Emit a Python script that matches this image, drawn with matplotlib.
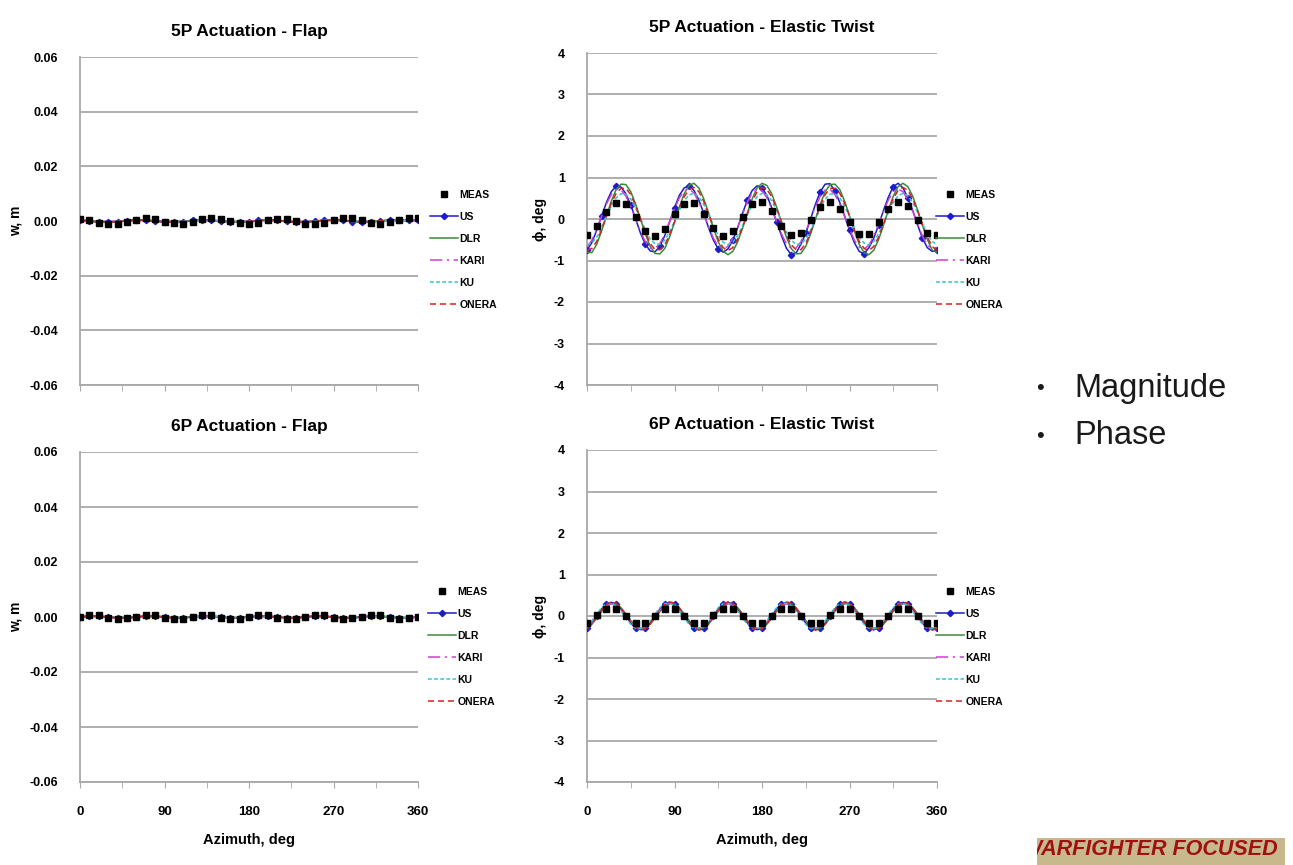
import numpy as np
import matplotlib
matplotlib.use("Agg")
import matplotlib.pyplot as plt
from matplotlib.lines import Line2D

plt.rcParams['font.family'] = ['Liberation Sans', 'DejaVu Sans']

# azimuth grids (deg)
az_meas = np.arange(0, 361, 10)
az_model = np.arange(0, 361, 5)
az_flap = np.arange(0, 361, 10)

series = ["US", "DLR", "KARI", "KU", "ONERA"]

# ---- 5P actuation, flap (m) ----
meas_flap5 = [0.0008, 0.0003, -0.0006, -0.0010, -0.0010, -0.0005, 0.0003, 0.0010, 0.0008, -0.0002,
              -0.0009, -0.0011, -0.0004, 0.0006, 0.0011, 0.0009, -0.0001, -0.0008, -0.0010, -0.0006,
              0.0002, 0.0009, 0.0007, -0.0001, -0.0010, -0.0012, -0.0006, 0.0004, 0.0011, 0.0012,
              0.0002, -0.0008, -0.0011, -0.0005, 0.0004, 0.0010, 0.0010]
us_flap5 = [0.0004, -0.0001, -0.0004, -0.0005, -0.0003, 0.0001, 0.0004, 0.0004, 0.0000, -0.0004,
            -0.0005, -0.0002, 0.0002, 0.0005, 0.0004, 0.0000, -0.0004, -0.0005, -0.0002, 0.0002,
            0.0005, 0.0003, -0.0001, -0.0005, -0.0005, -0.0001, 0.0003, 0.0005, 0.0003, -0.0002,
            -0.0005, -0.0004, 0.0000, 0.0004, 0.0005, 0.0002, 0.0004]
dlr_flap5 = [0.0003, 0.0001, -0.0003, -0.0004, -0.0002, 0.0001, 0.0003, 0.0003, 0.0000, -0.0003,
             -0.0004, -0.0001, 0.0002, 0.0004, 0.0003, -0.0001, -0.0003, -0.0004, -0.0001, 0.0002,
             0.0004, 0.0002, -0.0001, -0.0004, -0.0003, 0.0000, 0.0003, 0.0004, 0.0002, -0.0002,
             -0.0004, -0.0003, 0.0001, 0.0003, 0.0004, 0.0001, 0.0003]
kari_flap5 = [0.0002, 0.0000, -0.0002, -0.0003, -0.0001, 0.0001, 0.0003, 0.0002, 0.0000, -0.0002,
              -0.0003, -0.0001, 0.0002, 0.0003, 0.0002, -0.0001, -0.0003, -0.0003, 0.0000, 0.0002,
              0.0003, 0.0002, -0.0001, -0.0003, -0.0002, 0.0000, 0.0002, 0.0003, 0.0001, -0.0001,
              -0.0003, -0.0002, 0.0001, 0.0003, 0.0003, 0.0001, 0.0002]
ku_flap5 = [0.0003, 0.0000, -0.0002, -0.0003, -0.0002, 0.0000, 0.0002, 0.0003, 0.0001, -0.0002,
            -0.0003, -0.0002, 0.0001, 0.0003, 0.0003, 0.0000, -0.0002, -0.0003, -0.0002, 0.0001,
            0.0003, 0.0003, 0.0000, -0.0003, -0.0003, -0.0001, 0.0002, 0.0003, 0.0002, -0.0001,
            -0.0003, -0.0003, 0.0000, 0.0002, 0.0003, 0.0002, 0.0003]
onera_flap5 = [0.0004, 0.0000, -0.0003, -0.0004, -0.0002, 0.0001, 0.0004, 0.0003, 0.0000, -0.0003,
               -0.0004, -0.0002, 0.0002, 0.0004, 0.0003, 0.0000, -0.0003, -0.0004, -0.0002, 0.0002,
               0.0004, 0.0003, -0.0001, -0.0004, -0.0004, -0.0001, 0.0003, 0.0004, 0.0003, -0.0001,
               -0.0004, -0.0003, 0.0000, 0.0003, 0.0004, 0.0002, 0.0004]

# ---- 5P actuation, elastic twist (deg) ----
meas_twist5 = [-0.38, -0.18, 0.16, 0.39, 0.35, 0.05, -0.28, -0.41, -0.24, 0.12,
               0.37, 0.39, 0.12, -0.22, -0.41, -0.29, 0.05, 0.35, 0.42, 0.20,
               -0.16, -0.38, -0.33, -0.03, 0.29, 0.41, 0.24, -0.08, -0.36, -0.36,
               -0.08, 0.23, 0.41, 0.31, -0.02, -0.33, -0.38]
us_twist5 = [-0.75, -0.57, -0.27, 0.07, 0.40, 0.66, 0.79, 0.77, 0.61, 0.34,
             0.00, -0.34, -0.61, -0.77, -0.79, -0.66, -0.40, -0.07, 0.27, 0.57,
             0.75, 0.80, 0.69, 0.46, 0.14, -0.21, -0.51, -0.72, -0.80, -0.72,
             -0.51, -0.21, 0.14, 0.46, 0.69, 0.80, 0.75, 0.57, 0.27, -0.07,
             -0.40, -0.70, -0.86, -0.82, -0.61, -0.34, 0.00, 0.36, 0.66, 0.84,
             0.85, 0.68, 0.40, 0.07, -0.27, -0.57, -0.78, -0.84, -0.69, -0.46,
             -0.14, 0.21, 0.53, 0.78, 0.86, 0.75, 0.51, 0.21, -0.14, -0.46,
             -0.69, -0.78, -0.75]
dlr_twist5 = [-0.80, -0.81, -0.61, -0.29, 0.08, 0.43, 0.71, 0.84, 0.83, 0.66,
              0.36, 0.00, -0.36, -0.66, -0.83, -0.84, -0.71, -0.43, -0.08, 0.29,
              0.61, 0.81, 0.86, 0.75, 0.49, 0.15, -0.22, -0.55, -0.78, -0.86,
              -0.78, -0.55, -0.22, 0.15, 0.49, 0.75, 0.86, 0.81, 0.61, 0.29,
              -0.08, -0.43, -0.71, -0.84, -0.83, -0.66, -0.36, 0.00, 0.36, 0.66,
              0.83, 0.84, 0.71, 0.43, 0.08, -0.29, -0.61, -0.81, -0.86, -0.75,
              -0.49, -0.15, 0.22, 0.55, 0.78, 0.86, 0.78, 0.55, 0.22, -0.15,
              -0.49, -0.75, -0.80]
kari_twist5 = [-0.68, -0.51, -0.24, 0.06, 0.36, 0.59, 0.71, 0.70, 0.55, 0.30,
               0.00, -0.30, -0.55, -0.70, -0.71, -0.59, -0.36, -0.06, 0.24, 0.51,
               0.68, 0.72, 0.63, 0.41, 0.12, -0.19, -0.46, -0.66, -0.72, -0.66,
               -0.46, -0.19, 0.12, 0.41, 0.63, 0.72, 0.68, 0.51, 0.24, -0.06,
               -0.36, -0.59, -0.71, -0.70, -0.55, -0.30, 0.00, 0.30, 0.55, 0.70,
               0.71, 0.59, 0.36, 0.06, -0.24, -0.51, -0.68, -0.72, -0.63, -0.41,
               -0.12, 0.19, 0.46, 0.66, 0.72, 0.66, 0.46, 0.19, -0.12, -0.41,
               -0.63, -0.72, -0.68]
ku_twist5 = [-0.62, -0.58, -0.44, -0.21, 0.06, 0.31, 0.51, 0.61, 0.60, 0.48,
             0.26, 0.00, -0.26, -0.48, -0.60, -0.61, -0.51, -0.31, -0.06, 0.21,
             0.44, 0.58, 0.62, 0.54, 0.35, 0.11, -0.16, -0.40, -0.56, -0.62,
             -0.56, -0.40, -0.16, 0.11, 0.35, 0.54, 0.62, 0.58, 0.44, 0.21,
             -0.06, -0.31, -0.51, -0.61, -0.60, -0.48, -0.26, 0.00, 0.26, 0.48,
             0.60, 0.61, 0.51, 0.31, 0.06, -0.21, -0.44, -0.58, -0.62, -0.54,
             -0.35, -0.11, 0.16, 0.40, 0.56, 0.62, 0.56, 0.40, 0.16, -0.11,
             -0.35, -0.54, -0.62]
onera_twist5 = [-0.76, -0.71, -0.54, -0.26, 0.07, 0.38, 0.62, 0.74, 0.74, 0.59,
                0.32, 0.00, -0.32, -0.59, -0.74, -0.74, -0.62, -0.38, -0.07, 0.26,
                0.54, 0.71, 0.76, 0.66, 0.43, 0.13, -0.20, -0.49, -0.69, -0.76,
                -0.69, -0.49, -0.20, 0.13, 0.43, 0.66, 0.76, 0.71, 0.54, 0.26,
                -0.07, -0.38, -0.62, -0.74, -0.74, -0.59, -0.32, 0.00, 0.32, 0.59,
                0.74, 0.74, 0.62, 0.38, 0.07, -0.26, -0.54, -0.71, -0.76, -0.66,
                -0.43, -0.13, 0.20, 0.49, 0.69, 0.76, 0.69, 0.49, 0.20, -0.13,
                -0.43, -0.66, -0.76]

# ---- 6P actuation, flap (m) ----
meas_flap6 = [0.0000, 0.0008, 0.0006, -0.0002, -0.0008, -0.0005,
              0.0001, 0.0009, 0.0007, -0.0003, -0.0008, -0.0006,
              0.0001, 0.0008, 0.0007, -0.0002, -0.0007, -0.0006,
              0.0000, 0.0008, 0.0006, -0.0002, -0.0008, -0.0006,
              0.0001, 0.0009, 0.0006, -0.0002, -0.0008, -0.0005,
              0.0000, 0.0008, 0.0007, -0.0002, -0.0007, -0.0005,
              0.0001]
us_flap6 = [0.0000, 0.0004, 0.0004, 0.0000, -0.0004, -0.0004,
            0.0000, 0.0004, 0.0004, 0.0000, -0.0004, -0.0004,
            0.0000, 0.0004, 0.0004, 0.0000, -0.0004, -0.0004,
            0.0000, 0.0004, 0.0004, 0.0000, -0.0004, -0.0004,
            0.0000, 0.0004, 0.0004, 0.0000, -0.0004, -0.0004,
            0.0000, 0.0004, 0.0004, 0.0000, -0.0004, -0.0004,
            0.0000]
dlr_flap6 = [0.0001, 0.0003, 0.0003, -0.0001, -0.0003, -0.0003,
             0.0001, 0.0003, 0.0003, -0.0001, -0.0003, -0.0003,
             0.0001, 0.0003, 0.0003, -0.0001, -0.0003, -0.0003,
             0.0001, 0.0003, 0.0003, -0.0001, -0.0003, -0.0003,
             0.0001, 0.0003, 0.0003, -0.0001, -0.0003, -0.0003,
             0.0001, 0.0003, 0.0003, -0.0001, -0.0003, -0.0003,
             0.0001]
kari_flap6 = [0.0000, 0.0003, 0.0003, 0.0000, -0.0003, -0.0003,
              0.0000, 0.0003, 0.0003, 0.0000, -0.0003, -0.0003,
              0.0000, 0.0003, 0.0003, 0.0000, -0.0003, -0.0003,
              0.0000, 0.0003, 0.0003, 0.0000, -0.0003, -0.0003,
              0.0000, 0.0003, 0.0003, 0.0000, -0.0003, -0.0003,
              0.0000, 0.0003, 0.0003, 0.0000, -0.0003, -0.0003,
              0.0000]
ku_flap6 = [-0.0001, 0.0002, 0.0003, 0.0001, -0.0002, -0.0003,
            -0.0001, 0.0002, 0.0003, 0.0001, -0.0002, -0.0003,
            -0.0001, 0.0002, 0.0003, 0.0001, -0.0002, -0.0003,
            -0.0001, 0.0002, 0.0003, 0.0001, -0.0002, -0.0003,
            -0.0001, 0.0002, 0.0003, 0.0001, -0.0002, -0.0003,
            -0.0001, 0.0002, 0.0003, 0.0001, -0.0002, -0.0003,
            -0.0001]
onera_flap6 = [0.0000, 0.0004, 0.0003, 0.0000, -0.0003, -0.0004,
               0.0000, 0.0004, 0.0003, 0.0000, -0.0003, -0.0004,
               0.0000, 0.0004, 0.0003, 0.0000, -0.0003, -0.0004,
               0.0000, 0.0004, 0.0003, 0.0000, -0.0003, -0.0004,
               0.0000, 0.0004, 0.0003, 0.0000, -0.0003, -0.0004,
               0.0000, 0.0004, 0.0003, 0.0000, -0.0003, -0.0004,
               0.0000]

# ---- 6P actuation, elastic twist (deg) ----
meas_twist6 = [-0.16, 0.02, 0.16, 0.17, 0.00, -0.17,
               -0.17, 0.01, 0.16, 0.16, -0.01, -0.17,
               -0.18, 0.02, 0.17, 0.16, 0.00, -0.16,
               -0.17, 0.01, 0.17, 0.16, -0.01, -0.17,
               -0.17, 0.02, 0.16, 0.17, 0.00, -0.16,
               -0.17, 0.01, 0.17, 0.16, 0.00, -0.17,
               -0.16]
us_twist6 = [-0.29, -0.17, 0.00, 0.17, 0.29, 0.33, 0.29, 0.17, 0.00, -0.17, -0.29, -0.33,
             -0.29, -0.17, 0.00, 0.17, 0.29, 0.33, 0.29, 0.17, 0.00, -0.17, -0.29, -0.33,
             -0.29, -0.17, 0.00, 0.17, 0.29, 0.33, 0.29, 0.17, 0.00, -0.17, -0.29, -0.33,
             -0.29, -0.17, 0.00, 0.17, 0.29, 0.33, 0.29, 0.17, 0.00, -0.17, -0.29, -0.33,
             -0.29, -0.17, 0.00, 0.17, 0.29, 0.33, 0.29, 0.17, 0.00, -0.17, -0.29, -0.33,
             -0.29, -0.17, 0.00, 0.17, 0.29, 0.33, 0.29, 0.17, 0.00, -0.17, -0.29, -0.33,
             -0.29]
dlr_twist6 = [-0.29, -0.20, -0.05, 0.11, 0.24, 0.30, 0.29, 0.20, 0.05, -0.11, -0.24, -0.30,
              -0.29, -0.20, -0.05, 0.11, 0.24, 0.30, 0.29, 0.20, 0.05, -0.11, -0.24, -0.30,
              -0.29, -0.20, -0.05, 0.11, 0.24, 0.30, 0.29, 0.20, 0.05, -0.11, -0.24, -0.30,
              -0.29, -0.20, -0.05, 0.11, 0.24, 0.30, 0.29, 0.20, 0.05, -0.11, -0.24, -0.30,
              -0.29, -0.20, -0.05, 0.11, 0.24, 0.30, 0.29, 0.20, 0.05, -0.11, -0.24, -0.30,
              -0.29, -0.20, -0.05, 0.11, 0.24, 0.30, 0.29, 0.20, 0.05, -0.11, -0.24, -0.30,
              -0.29]
kari_twist6 = [-0.26, -0.15, 0.00, 0.15, 0.26, 0.30, 0.26, 0.15, 0.00, -0.15, -0.26, -0.30,
               -0.26, -0.15, 0.00, 0.15, 0.26, 0.30, 0.26, 0.15, 0.00, -0.15, -0.26, -0.30,
               -0.26, -0.15, 0.00, 0.15, 0.26, 0.30, 0.26, 0.15, 0.00, -0.15, -0.26, -0.30,
               -0.26, -0.15, 0.00, 0.15, 0.26, 0.30, 0.26, 0.15, 0.00, -0.15, -0.26, -0.30,
               -0.26, -0.15, 0.00, 0.15, 0.26, 0.30, 0.26, 0.15, 0.00, -0.15, -0.26, -0.30,
               -0.26, -0.15, 0.00, 0.15, 0.26, 0.30, 0.26, 0.15, 0.00, -0.15, -0.26, -0.30,
               -0.26]
ku_twist6 = [-0.25, -0.11, 0.05, 0.20, 0.30, 0.31, 0.25, 0.11, -0.05, -0.20, -0.30, -0.31,
             -0.25, -0.11, 0.05, 0.20, 0.30, 0.31, 0.25, 0.11, -0.05, -0.20, -0.30, -0.31,
             -0.25, -0.11, 0.05, 0.20, 0.30, 0.31, 0.25, 0.11, -0.05, -0.20, -0.30, -0.31,
             -0.25, -0.11, 0.05, 0.20, 0.30, 0.31, 0.25, 0.11, -0.05, -0.20, -0.30, -0.31,
             -0.25, -0.11, 0.05, 0.20, 0.30, 0.31, 0.25, 0.11, -0.05, -0.20, -0.30, -0.31,
             -0.25, -0.11, 0.05, 0.20, 0.30, 0.31, 0.25, 0.11, -0.05, -0.20, -0.30, -0.31,
             -0.25]
onera_twist6 = [-0.31, -0.19, -0.03, 0.14, 0.28, 0.34, 0.31, 0.19, 0.03, -0.14, -0.28, -0.34,
                -0.31, -0.19, -0.03, 0.14, 0.28, 0.34, 0.31, 0.19, 0.03, -0.14, -0.28, -0.34,
                -0.31, -0.19, -0.03, 0.14, 0.28, 0.34, 0.31, 0.19, 0.03, -0.14, -0.28, -0.34,
                -0.31, -0.19, -0.03, 0.14, 0.28, 0.34, 0.31, 0.19, 0.03, -0.14, -0.28, -0.34,
                -0.31, -0.19, -0.03, 0.14, 0.28, 0.34, 0.31, 0.19, 0.03, -0.14, -0.28, -0.34,
                -0.31, -0.19, -0.03, 0.14, 0.28, 0.34, 0.31, 0.19, 0.03, -0.14, -0.28, -0.34,
                -0.31]

flap_ticks = [-0.06, -0.04, -0.02, 0.0, 0.02, 0.04, 0.06]
flap_labels = ["-0.06", "-0.04", "-0.02", "0.00", "0.02", "0.04", "0.06"]
twist_ticks = [-4, -3, -2, -1, 0, 1, 2, 3, 4]
twist_labels = ["-4", "-3", "-2", "-1", "0", "1", "2", "3", "4"]
x_ticks = [0, 90, 180, 270, 360]
x_labels = ["0", "90", "180", "270", "360"]

styles = {
    "US": dict(color="#1c1cc8", lw=1.1, ls="-", marker="D", ms=3.2),
    "DLR": dict(color="#3a8a3a", lw=1.1, ls="-"),
    "KARI": dict(color="#d040d0", lw=1.1, ls=(0, (8, 3, 1.5, 3))),
    "KU": dict(color="#30c8d0", lw=1.1, ls=(0, (2.5, 1.5))),
    "ONERA": dict(color="#d82020", lw=1.1, ls=(0, (4, 2.5))),
}

W, H = 1293, 865
fig = plt.figure(figsize=(12.93, 8.65), dpi=100)
GRID = "#a8a8a8"
BOLD = dict(fontweight="bold")


def px_axes(x0, y0, x1, y1):
    return fig.add_axes([x0 / W, 1 - y1 / H, (x1 - x0) / W, (y1 - y0) / H])


def panel(box, title, yticks, ylabels, ylabel, meas, model_x, models, us_every,
          show_x, leg_xy, ylabel_x):
    ax = px_axes(*box)
    for name, vals in zip(series, models):
        st = dict(styles[name])
        if name == "US":
            st["markevery"] = us_every
        ax.plot(model_x, vals, zorder=3, **st)
    ax.plot(az_meas, meas, "s", color="black", ms=4.5, zorder=4, lw=0)

    ax.set_xlim(0, 360)
    ax.set_ylim(yticks[0], yticks[-1])
    ax.set_yticks(yticks)
    ax.set_yticklabels(ylabels, fontsize=9, **BOLD)
    ax.set_xticks(x_ticks)
    ax.set_xticks([45, 135, 225, 315], minor=True)
    if show_x:
        ax.set_xticklabels(x_labels, fontsize=9.5, **BOLD)
        ax.set_xlabel("Azimuth, deg", fontsize=10.5, labelpad=11, **BOLD)
    else:
        ax.set_xticklabels([])
    ax.tick_params(axis="y", length=0, pad=16)
    ax.tick_params(axis="x", which="both", direction="out", length=4,
                   color=GRID, pad=13)
    ax.yaxis.grid(True, color=GRID, lw=1.3, zorder=0)
    ax.set_axisbelow(True)
    for s in ["top", "right"]:
        ax.spines[s].set_visible(False)
    for s in ["left", "bottom"]:
        ax.spines[s].set_color(GRID)
        ax.spines[s].set_linewidth(1.3)
    ax.set_title(title, fontsize=12.5, pad=15, **BOLD)
    fig.text(ylabel_x / W, 1 - ((box[1] + box[3]) / 2) / H, ylabel,
             rotation=90, ha="center", va="center", fontsize=10, **BOLD)

    handles = [Line2D([], [], color="black", marker="s", ms=4, lw=0)]
    for name in series:
        handles.append(Line2D([], [], **styles[name]))
    ax.legend(handles, ["MEAS"] + series, loc="upper left",
              bbox_to_anchor=(leg_xy[0] / W, 1 - leg_xy[1] / H),
              bbox_transform=fig.transFigure, frameon=False,
              prop=dict(size=7.5, weight="bold"), borderpad=0, borderaxespad=0,
              handlelength=2.7, handletextpad=0.15, labelspacing=1.15)
    return ax


panel((80, 57, 418, 385), "5P Actuation - Flap", flap_ticks, flap_labels, "w, m",
      meas_flap5, az_flap,
      [us_flap5, dlr_flap5, kari_flap5, ku_flap5, onera_flap5], 1, False,
      (430, 190), 16)
panel((587, 53, 937, 385), "5P Actuation - Elastic Twist", twist_ticks, twist_labels,
      "ϕ, deg", meas_twist5, az_model,
      [us_twist5, dlr_twist5, kari_twist5, ku_twist5, onera_twist5], 3, False,
      (936, 190), 540)
panel((80, 452, 418, 782), "6P Actuation - Flap", flap_ticks, flap_labels, "w, m",
      meas_flap6, az_flap,
      [us_flap6, dlr_flap6, kari_flap6, ku_flap6, onera_flap6], 1, True,
      (428, 587), 16)
panel((587, 450, 937, 782), "6P Actuation - Elastic Twist", twist_ticks, twist_labels,
      "ϕ, deg", meas_twist6, az_model,
      [us_twist6, dlr_twist6, kari_twist6, ku_twist6, onera_twist6], 2, True,
      (936, 587), 540)

# bullet text
for label, ypx in [("Magnitude", 388), ("Phase", 436)]:
    fig.text(1036 / W, 1 - ypx / H, "•", fontsize=16, va="center", color="#1a1a1a")
    fig.text(1074 / W, 1 - ypx / H, label, fontsize=23.5, va="center", color="#1a1a1a")

# banner at lower right
ban = px_axes(1037, 838, 1285, 865)
ban.set_facecolor("#c8b98c")
ban.set_xticks([])
ban.set_yticks([])
for s in ban.spines.values():
    s.set_visible(False)
ban.text(-0.062, 0.98, "WARFIGHTER FOCUSED", transform=ban.transAxes, ha="left",
         va="top", fontsize=15.5, fontweight="bold", fontstyle="italic",
         color="#a01010", clip_on=True)

fig.savefig("out.png", dpi=100)
